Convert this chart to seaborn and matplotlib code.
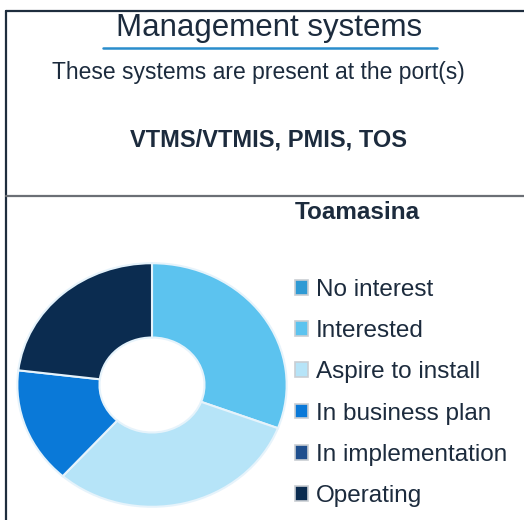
import matplotlib.pyplot as plt
import matplotlib as mpl
from matplotlib.patches import Patch
from matplotlib.lines import Line2D
import seaborn as sns

# chart data
statuses = ['No interest', 'Interested', 'Aspire to install',
            'In business plan', 'In implementation', 'Operating']
counts = [0, 4, 4, 2, 0, 3]
status_colors = ['#2f9ad4', '#5cc3ef', '#b6e4f8', '#0a79d8', '#1f4f8e', '#0b2c50']
port_name = 'Toamasina'
systems_present = 'VTMS/VTMIS, PMIS, TOS'

sns.set_style('white')
plt.rcParams['font.family'] = ['Liberation Sans', 'DejaVu Sans']

W, H = 524, 520
fig = plt.figure(figsize=(W / 100, H / 100), dpi=100)
fig.patch.set_facecolor('white')

def fx(px):
    return px / W

def fy(py):
    return 1 - py / H

# frame lines
frame = '#1e2d3d'
fig.add_artist(Line2D([fx(6), 1], [fy(11), fy(11)], color=frame, lw=1.6))
fig.add_artist(Line2D([fx(6), fx(6)], [fy(11), 0], color=frame, lw=1.6))
fig.add_artist(Line2D([fx(6), 1], [fy(195.5), fy(195.5)], color='#6b6f75', lw=1.6))

# header texts
txt = '#1c2b3d'
fig.text(fx(269), fy(36), 'Management systems', ha='center', va='baseline',
         fontsize=22.5, color=txt)
fig.add_artist(Line2D([fx(103), fx(437)], [fy(48), fy(48)], color='#2a8dcc', lw=1.8))
fig.text(fx(258), fy(79), 'These systems are present at the port(s)', ha='center',
         va='baseline', fontsize=16.5, color=txt)
fig.text(fx(268), fy(147), systems_present, ha='center', va='baseline',
         fontsize=17, fontweight='bold', color=txt)
fig.text(fx(357), fy(219), port_name, ha='center', va='baseline',
         fontsize=17.5, fontweight='bold', color=txt)

# donut
cx, cy, rx, ry = 152, 385, 136, 123
ax = fig.add_axes([fx(cx - rx), fy(cy + ry), 2 * rx / W, 2 * ry / H])
vals = [c for c in counts if c > 0]
cols = [status_colors[i] for i, c in enumerate(counts) if c > 0]
ax.pie(vals, colors=cols, startangle=90, counterclock=False,
       wedgeprops=dict(width=0.61, edgecolor='#e6f3fb', linewidth=1.5))
ax.set_aspect('auto')
ax.set_xlim(-1.01, 1.01)
ax.set_ylim(-1.01, 1.01)
ax.axis('off')

# legend
handles = [Patch(facecolor=c, edgecolor='#c9ced3', linewidth=1.2) for c in status_colors]
leg = fig.legend(handles, statuses, loc='upper left',
                 bbox_to_anchor=(fx(295), fy(279)), frameon=False,
                 fontsize=17.5, handlelength=0.55, handleheight=0.55,
                 handletextpad=0.3, labelspacing=0.79, borderaxespad=0,
                 borderpad=0)
for t in leg.get_texts():
    t.set_color(txt)

fig.savefig('out.png', dpi=100)
